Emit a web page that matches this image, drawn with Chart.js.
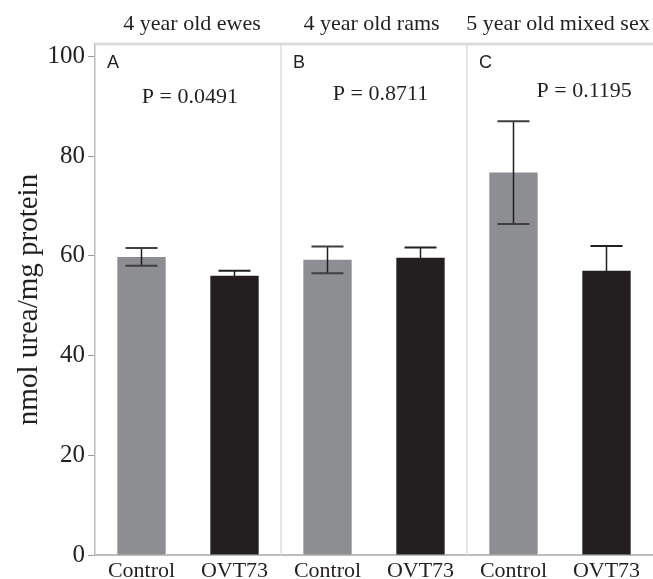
<!DOCTYPE html>
<html>
<head>
<meta charset="utf-8">
<script src="https://cdn.jsdelivr.net/npm/chart.js@4.4.1/dist/chart.umd.min.js"></script>
<style>
  html, body { margin: 0; padding: 0; background: #fff; }
  #wrap { width: 653px; height: 579px; position: relative; }
</style>
</head>
<body>
<div id="wrap"><canvas id="ureaChart"></canvas></div>
<script>
// ── DATA ───────────────────────────────────────────────────────────────────
const groups = ["4 year old ewes", "4 year old rams", "5 year old mixed sex"];
const panelLetters = ["A", "B", "C"];
const pValues = ["P = 0.0491", "P = 0.8711", "P = 0.1195"];
const categories = ["Control", "OVT73", "Control", "OVT73", "Control", "OVT73"];
const means = [59.8, 56.0, 59.2, 59.6, 76.7, 57.0];
const errs = [1.8, 1.0, 2.7, 2.1, 10.3, 5.0];
const yTicks = [0, 20, 40, 60, 80, 100];

const ctrlColor = "#8d8e91";
const ovtColor = "#231f20";
const ink = "#231f20";
const serif = "'Liberation Serif', 'Times New Roman', serif";
const sans = "'Liberation Sans', Arial, sans-serif";

// ── DECORATION PLUGIN: panel dividers, titles, P values, error bars ───────
const panelPlugin = {
  id: "panels",
  beforeDatasetsDraw(chart) {
    const { ctx, chartArea: a, scales: { x } } = chart;
    ctx.save();
    // top band
    ctx.strokeStyle = "#dcdcdc";
    ctx.lineWidth = 3;
    ctx.beginPath();
    ctx.moveTo(a.left, a.top);
    ctx.lineTo(a.right, a.top);
    ctx.stroke();
    // dividers between panels
    ctx.lineWidth = 1.5;
    for (let g = 1; g < groups.length; g++) {
      const px = (x.getPixelForValue(g * 2 - 1) + x.getPixelForValue(g * 2)) / 2;
      ctx.beginPath();
      ctx.moveTo(px, a.top);
      ctx.lineTo(px, a.bottom);
      ctx.stroke();
    }
    ctx.restore();
  },
  afterDatasetsDraw(chart) {
    const { ctx, chartArea: a, scales: { x, y } } = chart;
    const half = x.getPixelForValue(1) - x.getPixelForValue(0);
    ctx.save();
    // error bars
    means.forEach((m, i) => {
      const cx = x.getPixelForValue(i);
      const hi = y.getPixelForValue(m + errs[i]);
      const lo = y.getPixelForValue(m - errs[i]);
      ctx.strokeStyle = ink;
      ctx.lineWidth = 1.5;
      ctx.beginPath();
      ctx.moveTo(cx, hi);
      ctx.lineTo(cx, lo);
      ctx.stroke();
      ctx.strokeStyle = categories[i] === "Control" ? "#3f3f3f" : ink;
      ctx.lineWidth = 2;
      ctx.beginPath();
      ctx.moveTo(cx - 16, hi);
      ctx.lineTo(cx + 16, hi);
      ctx.moveTo(cx - 16, lo);
      ctx.lineTo(cx + 16, lo);
      ctx.stroke();
    });
    // titles, letters, P values
    const titleShift = [4, -2.5, -2];
    const pShift = [0.02, 0.07, 0.26];
    const pLevel = [90.7, 91.3, 91.8];
    groups.forEach((g, k) => {
      const left = x.getPixelForValue(k * 2) - half / 2;
      const mid = (x.getPixelForValue(k * 2) + x.getPixelForValue(k * 2 + 1)) / 2;
      ctx.fillStyle = ink;
      ctx.textAlign = "center";
      ctx.textBaseline = "alphabetic";
      ctx.font = "22px " + serif;
      ctx.fillText(g, mid + titleShift[k], a.top - 14);
      ctx.fillText(pValues[k], mid + pShift[k] * half, y.getPixelForValue(pLevel[k]));
      ctx.textAlign = "left";
      ctx.font = "18px " + sans;
      ctx.fillText(panelLetters[k], left + 12, y.getPixelForValue(97.6));
    });
    ctx.restore();
  },
};

// ── CHART ─────────────────────────────────────────────────────────────────
new Chart(document.getElementById("ureaChart"), {
  type: "bar",
  data: {
    labels: categories,
    datasets: [{
      data: means,
      backgroundColor: categories.map(c => c === "Control" ? ctrlColor : ovtColor),
      borderWidth: 0,
      barPercentage: 0.52,
      categoryPercentage: 1,
    }],
  },
  options: {
    responsive: true, maintainAspectRatio: false, animation: false,
    layout: { padding: { top: 44, right: 0, left: 0, bottom: 0 } },
    plugins: { legend: { display: false }, tooltip: { enabled: false } },
    scales: {
      x: {
        grid: { display: false, drawTicks: false },
        border: { display: true, color: "#bdbdbd", width: 2 },
        ticks: { color: ink, font: { family: serif, size: 22 }, padding: 3, maxRotation: 0 },
        afterFit: s => { s.height = 24; },
      },
      y: {
        min: 0, max: 102.5,
        afterBuildTicks: s => { s.ticks = yTicks.map(v => ({ value: v })); },
        grid: { drawOnChartArea: false, color: "#9a9a9a", tickLength: 7, lineWidth: 1 },
        border: { display: true, color: "#bdbdbd", width: 1.5 },
        ticks: { color: ink, font: { family: serif, size: 25 }, padding: 3 },
        title: { display: true, text: "nmol urea/mg protein", color: ink, font: { family: serif, size: 29 }, padding: { top: 12, bottom: 0 } },
        afterFit: s => { s.width = 95; },
      },
    },
  },
  plugins: [panelPlugin],
});
</script>
</body>
</html>
